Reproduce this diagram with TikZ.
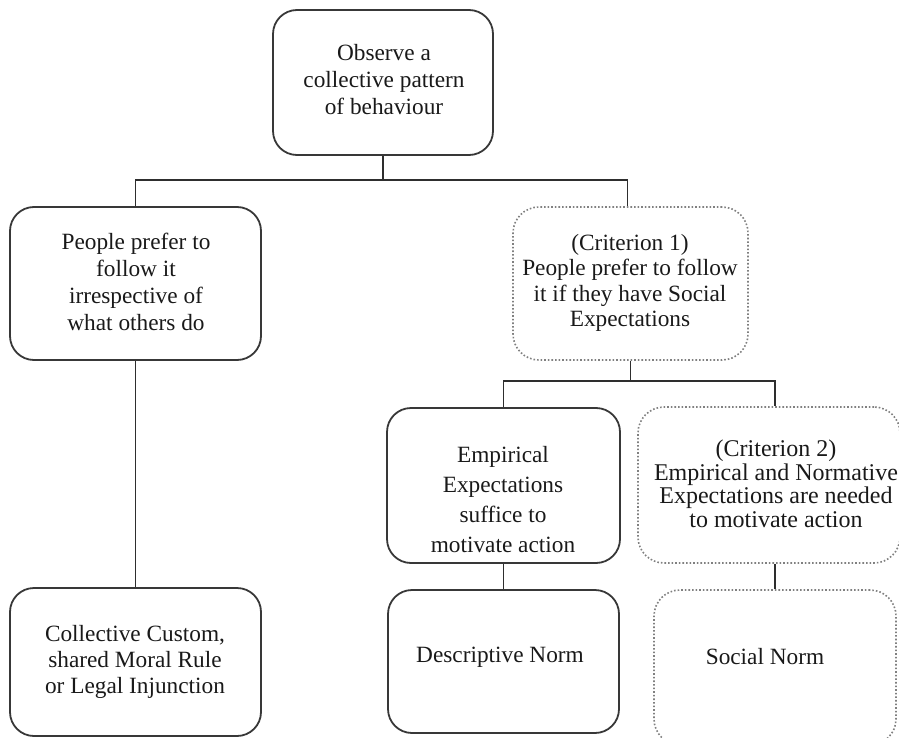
\documentclass[tikz,border=0pt]{standalone}
\usepackage{fontspec}
\setmainfont{Liberation Serif}
\begin{document}
\begin{tikzpicture}[x=1pt,y=-1pt,
  solidbox/.style={draw=black!78, line width=1.8pt, rounded corners=24pt, inner sep=0pt},
  dotbox/.style={draw=black!50, line width=1.6pt, dotted, rounded corners=26pt, inner sep=0pt},
  txt/.style={align=center, text=black!90, inner sep=0pt},
  conn/.style={draw=black!82, line width=1.8pt}]
\useasboundingbox (0,0) rectangle (899,738);
\clip (0,0) rectangle (899,738);
% boxes
\node[solidbox, minimum width=220pt, minimum height=145pt] (top) at (383,82.5) {};
\node[solidbox, minimum width=251pt, minimum height=153pt] (l1) at (135.5,283.5) {};
\node[solidbox, minimum width=251pt, minimum height=148pt] (l2) at (135.5,662) {};
\node[dotbox, minimum width=235pt, minimum height=153pt] (c1) at (630.5,283.5) {};
\node[solidbox, minimum width=233pt, minimum height=155pt] (emp) at (503.5,485.5) {};
\node[solidbox, minimum width=231pt, minimum height=143pt] (desc) at (503.5,661.5) {};
\node[dotbox, minimum width=262pt, minimum height=156pt] (c2) at (769,485) {};
\node[dotbox, minimum width=242pt, minimum height=155pt] (sn) at (775,667.5) {};
% texts
\node[txt, font=\fontsize{23.3}{27}\selectfont] (ttop) at (384,80) {Observe a\\collective pattern\\of behaviour};
\node[txt, font=\fontsize{23.3}{27}\selectfont] (tl1) at (136,282) {People prefer to\\follow it\\irrespective of\\what others do};
\node[txt, font=\fontsize{23.3}{26}\selectfont] (tl2) at (135,662) {Collective Custom,\\shared Moral Rule\\or Legal Injunction};
\node[txt, font=\fontsize{23.3}{25.5}\selectfont] (tc1) at (630,283) {(Criterion 1)\\People prefer to follow\\it if they have Social\\Expectations};
\node[txt, font=\fontsize{23.3}{30}\selectfont] (temp) at (503,500) {Empirical\\Expectations\\suffice to\\motivate action};
\node[txt, font=\fontsize{23.3}{27}\selectfont] (tdesc) at (500,657) {Descriptive Norm};
\node[txt, font=\fontsize{24}{23.5}\selectfont] (tc2) at (776,484) {(Criterion 2)\\Empirical and Normative\\Expectations are needed\\to motivate action};
\node[txt, font=\fontsize{23.3}{27}\selectfont] (tsn) at (765,657) {Social Norm};
% connectors
\coordinate (j1) at (383,180);
\coordinate (j2) at (630.5,381);
\draw[conn] (top.south) -- (j1);
\draw[conn] (l1.north) |- (j1) -| ([xshift=-3pt]c1.north);
\draw[conn] (l1.south) -- (l2.north);
\draw[conn] (c1.south) -- (j2);
\draw[conn] (emp.north) |- (j2) -| ([xshift=6pt]c2.north);
\draw[conn] (emp.south) -- (desc.north);
\draw[conn] ([xshift=6pt]c2.south) -- (sn.north);
\end{tikzpicture}
\end{document}
